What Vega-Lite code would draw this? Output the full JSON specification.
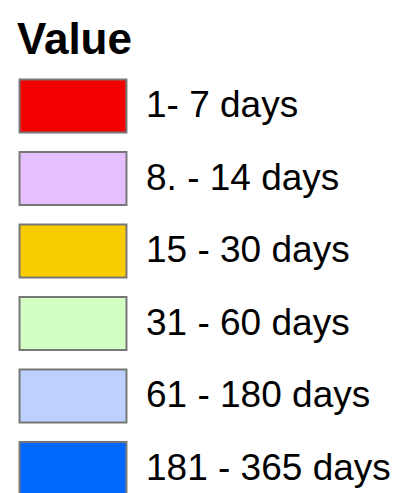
{
  "$schema": "https://vega.github.io/schema/vega-lite/v6.json",
  "width": 0,
  "height": 0,
  "padding": {"left": 17, "top": 19, "right": 0, "bottom": 0},
  "background": "white",
  "view": {"stroke": null},
  "data": {
    "values": [
      {"label": "1- 7 days"},
      {"label": "8. - 14 days"},
      {"label": "15 - 30 days"},
      {"label": "31 - 60 days"},
      {"label": "61 - 180 days"},
      {"label": "181 - 365 days"}
    ]
  },
  "mark": {"type": "rect", "opacity": 0},
  "encoding": {
    "color": {
      "field": "label",
      "type": "nominal",
      "title": "Value",
      "scale": {
        "domain": ["1- 7 days", "8. - 14 days", "15 - 30 days", "31 - 60 days", "61 - 180 days", "181 - 365 days"],
        "range": ["#f40000", "#e6bffe", "#f9cc00", "#d3ffc3", "#bed1fe", "#0068ff"]
      },
      "legend": {
        "orient": "none",
        "legendX": 0,
        "legendY": 0,
        "symbolType": "M-1.98,-0.98H1.98V0.98H-1.98Z",
        "symbolSize": 2916,
        "symbolOffset": 28,
        "symbolOpacity": 1,
        "symbolStrokeColor": "#777777",
        "symbolStrokeWidth": 2,
        "labelFont": "Liberation Sans",
        "labelFontSize": 37,
        "labelColor": "#000000",
        "labelOffset": 45,
        "labelLimit": 0,
        "titleFont": "Liberation Sans",
        "titleFontSize": 44,
        "titleFontWeight": "bold",
        "titleColor": "#000000",
        "titlePadding": 15,
        "rowPadding": 10.5
      }
    }
  }
}
